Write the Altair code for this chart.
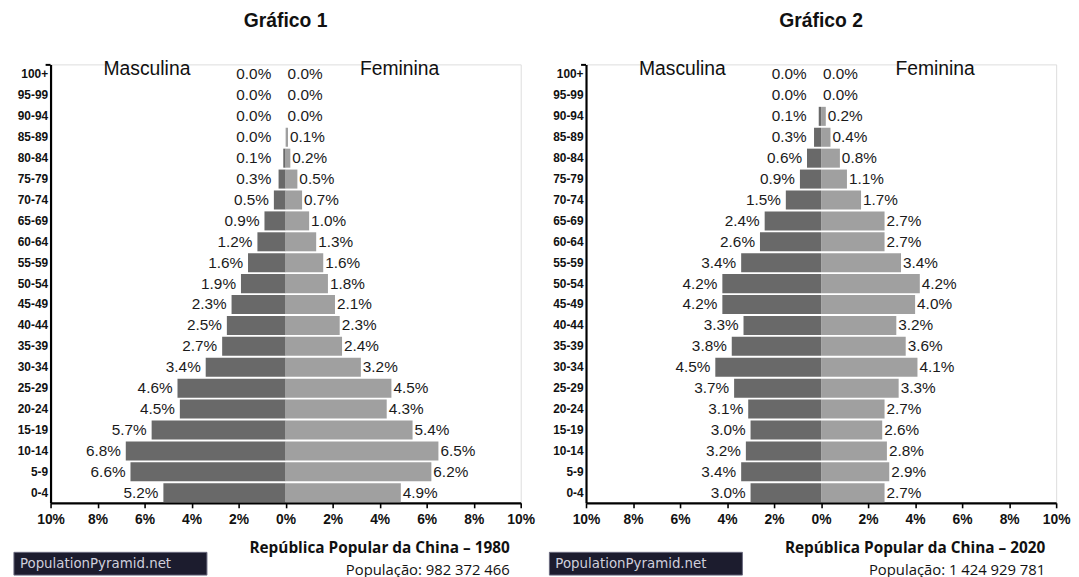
import altair as alt
import pandas as pd

ages = ["100+", "95-99", "90-94", "85-89", "80-84", "75-79", "70-74", "65-69",
        "60-64", "55-59", "50-54", "45-49", "40-44", "35-39", "30-34", "25-29",
        "20-24", "15-19", "10-14", "5-9", "0-4"]

male_1980 = [0.0, 0.0, 0.0, 0.0, 0.1, 0.3, 0.5, 0.9, 1.2, 1.6, 1.9, 2.3, 2.5,
             2.7, 3.4, 4.6, 4.5, 5.7, 6.8, 6.6, 5.2]
female_1980 = [0.0, 0.0, 0.0, 0.1, 0.2, 0.5, 0.7, 1.0, 1.3, 1.6, 1.8, 2.1, 2.3,
               2.4, 3.2, 4.5, 4.3, 5.4, 6.5, 6.2, 4.9]

male_2020 = [0.0, 0.0, 0.1, 0.3, 0.6, 0.9, 1.5, 2.4, 2.6, 3.4, 4.2, 4.2, 3.3,
             3.8, 4.5, 3.7, 3.1, 3.0, 3.2, 3.4, 3.0]
female_2020 = [0.0, 0.0, 0.2, 0.4, 0.8, 1.1, 1.7, 2.7, 2.7, 3.4, 4.2, 4.0, 3.2,
               3.6, 4.1, 3.3, 2.7, 2.6, 2.8, 2.9, 2.7]

titles = ["Gráfico 1", "Gráfico 2"]
countries = ["República Popular da China – 1980", "República Popular da China – 2020"]
populations = ["População: 982 372 466", "População: 1 424 929 781"]
side_labels = ["Masculina", "Feminina"]
logo_text = "PopulationPyramid.net"
tick_values = [-10, -8, -6, -4, -2, 0, 2, 4, 6, 8, 10]

W, H = 475, 443
MALE_COLOR = "#696969"
FEMALE_COLOR = "#a0a0a0"


def panel(males, females, title, country, pop):
    df = pd.DataFrame({"age": ages, "male": males, "female": females})
    base = alt.Chart(df).transform_calculate(
        mneg="-datum.male",
        mlabpos="-max(datum.male, 0.4)",
        mtxt="format(datum.male, '.1f') + '%'",
        ftxt="format(datum.female, '.1f') + '%'",
    )
    xscale = alt.Scale(domain=[-10, 10], nice=False, zero=True)
    yenc = alt.Y(
        "age:N", sort=ages, title=None,
        scale=alt.Scale(paddingInner=0.09, paddingOuter=0.03),
        axis=alt.Axis(labelFont="Liberation Sans", labelFontWeight="bold",
                      labelFontSize=12, labelColor="#111", labelPadding=3,
                      ticks=False, domainColor="#000", domainWidth=2.2),
    )
    xaxis = alt.Axis(values=tick_values, labelExpr="abs(datum.value) + '%'",
                     title=None, grid=False, labelFont="Liberation Sans",
                     labelFontWeight="bold", labelFontSize=14, labelColor="#111",
                     tickColor="#000", tickWidth=1.6, tickSize=5, labelPadding=5,
                     domainColor="#000", domainWidth=2.2, labelFlush=False)

    mbar = base.mark_bar(color=MALE_COLOR).encode(
        x=alt.X("mneg:Q", scale=xscale, axis=xaxis), y=yenc)
    fbar = base.mark_bar(color=FEMALE_COLOR).encode(
        x=alt.X("female:Q", scale=xscale), y=yenc)
    mlab = base.mark_text(align="right", baseline="middle", dx=-5,
                          font="Liberation Sans", fontSize=15.5, color="#1a1a1a").encode(
        x=alt.X("mlabpos:Q", scale=xscale), y=yenc, text="mtxt:N")
    flab = base.mark_text(align="left", baseline="middle", dx=2,
                          font="Liberation Sans", fontSize=15.5, color="#1a1a1a").encode(
        x=alt.X("female:Q", scale=xscale), y=yenc, text="ftxt:N")

    sides = alt.Chart(pd.DataFrame({"t": side_labels, "pos": [-5.9, 4.85]})).mark_text(
        font="Liberation Sans", fontSize=19.5, color="#111", baseline="middle",
        align="center").encode(x=alt.X("pos:Q", scale=xscale), y=alt.value(5), text="t:N")

    stub = alt.Chart(pd.DataFrame({"a": [0]})).mark_rule(color="#000", strokeWidth=2).encode(
        x=alt.value(-5), x2=alt.value(0), y=alt.value(0.5))

    foot = alt.Chart(pd.DataFrame({"t": [country]})).mark_text(
        font="Open Sans", fontWeight="bold", fontSize=15.5, color="#111",
        align="right", baseline="middle").encode(
        x=alt.value(W - 11), y=alt.value(489), text="t:N")
    popt = alt.Chart(pd.DataFrame({"t": [pop]})).mark_text(
        font="Open Sans", fontSize=15, color="#111",
        align="right", baseline="middle").encode(
        x=alt.value(W - 11), y=alt.value(511), text="t:N")

    logo_box = alt.Chart(pd.DataFrame({"a": [0]})).mark_rect(
        color="#1c1c2e", stroke="#6a6a80", strokeWidth=1).encode(
        x=alt.value(-37), x2=alt.value(158), y=alt.value(493), y2=alt.value(516))
    logo = alt.Chart(pd.DataFrame({"t": [logo_text]})).mark_text(
        font="DejaVu Sans", fontSize=13.5, color="#cfcfdc", align="left",
        baseline="middle").encode(x=alt.value(-31), y=alt.value(505), text="t:N")

    return alt.layer(mbar, fbar, mlab, flab, sides, stub, foot, popt, logo_box, logo).properties(
        width=W, height=H,
        title=alt.TitleParams(title, font="Liberation Sans", fontSize=19.5,
                              fontWeight="bold", color="#111", offset=28, anchor="middle"),
    )


chart = alt.hconcat(
    panel(male_1980, female_1980, titles[0], countries[0], populations[0]),
    panel(male_2020, female_2020, titles[1], countries[1], populations[1]),
    spacing=66, bounds="flush",
).properties(
    padding={"left": 5, "top": 0, "right": 0, "bottom": 0}
).configure_view(stroke=None).configure(background="white")

chart.save("out.html", embed_options={"renderer": "svg", "actions": False})
